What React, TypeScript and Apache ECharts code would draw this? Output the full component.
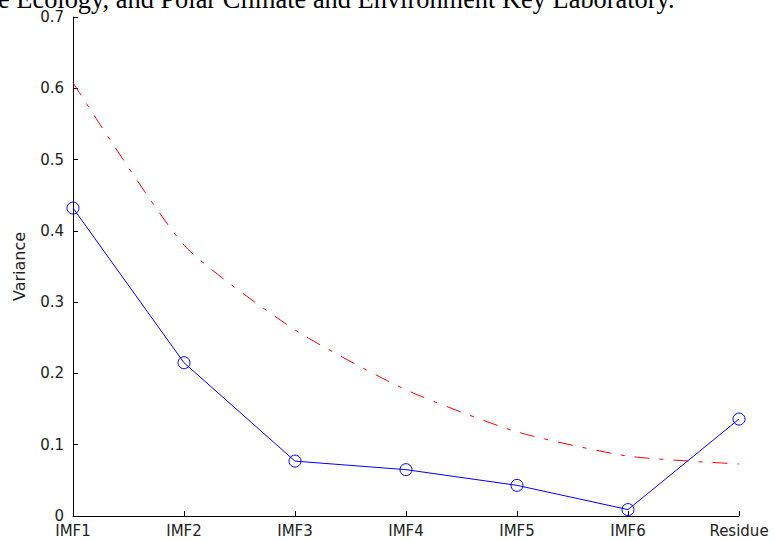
import React, { useEffect, useRef } from "react";
import * as echarts from "echarts";

const categories = ["IMF1", "IMF2", "IMF3", "IMF4", "IMF5", "IMF6", "Residue"];
const observedVariance = [0.432, 0.215, 0.077, 0.065, 0.043, 0.009, 0.136];
const referenceVariance = [0.608, 0.38, 0.261, 0.177, 0.118, 0.084, 0.073];
const yTicks = [0, 0.1, 0.2, 0.3, 0.4, 0.5, 0.6, 0.7];
const headerText = "e Ecology, and Polar Climate and Environment Key Laboratory.";

export default function App() {
  const ref = useRef<HTMLDivElement>(null);
  useEffect(() => {
    if (!ref.current) return;
    const chart = echarts.init(ref.current, null, { renderer: "svg" });
    const tickFont = { fontFamily: "DejaVu Sans", fontSize: 15, color: "#222" };
    chart.setOption({
      animation: false,
      backgroundColor: "#fff",
      graphic: [
        {
          type: "text",
          left: -2,
          top: -14,
          style: {
            text: headerText,
            fontFamily: "Liberation Serif",
            fontSize: 26.4,
            fill: "#000",
          },
        },
      ],
      grid: { left: 73, right: 36, top: 17, bottom: 25, containLabel: false },
      xAxis: {
        type: "category",
        data: categories,
        boundaryGap: false,
        axisLine: { lineStyle: { color: "#000", width: 1 } },
        axisTick: { inside: true, length: 5, lineStyle: { color: "#000" } },
        axisLabel: { ...tickFont, margin: 7 },
        splitLine: { show: false },
      },
      yAxis: {
        type: "value",
        min: yTicks[0],
        max: yTicks[yTicks.length - 1],
        interval: 0.1,
        name: "Variance",
        nameLocation: "middle",
        nameGap: 46,
        nameTextStyle: { fontFamily: "DejaVu Sans", fontSize: 16, color: "#222" },
        axisLine: { show: true, lineStyle: { color: "#000", width: 1 } },
        axisTick: { show: true, inside: true, length: 5, lineStyle: { color: "#000" } },
        axisLabel: { ...tickFont, margin: 9 },
        splitLine: { show: false },
      },
      series: [
        {
          type: "line",
          data: referenceVariance,
          smooth: 0.2,
          symbol: "none",
          lineStyle: { color: "#ff0000", width: 1, type: [15, 10, 4, 10] },
          z: 2,
        },
        {
          type: "line",
          data: observedVariance,
          symbol: "circle",
          symbolSize: 12,
          itemStyle: { color: "rgba(0,0,0,0)", borderColor: "#0000ff", borderWidth: 1 },
          lineStyle: { color: "#0000ff", width: 1 },
          z: 3,
        },
      ],
    });
    return () => chart.dispose();
  }, []);
  return <div ref={ref} style={{ width: 775, height: 541, position: "absolute", left: 0, top: 0 }} />;
}
